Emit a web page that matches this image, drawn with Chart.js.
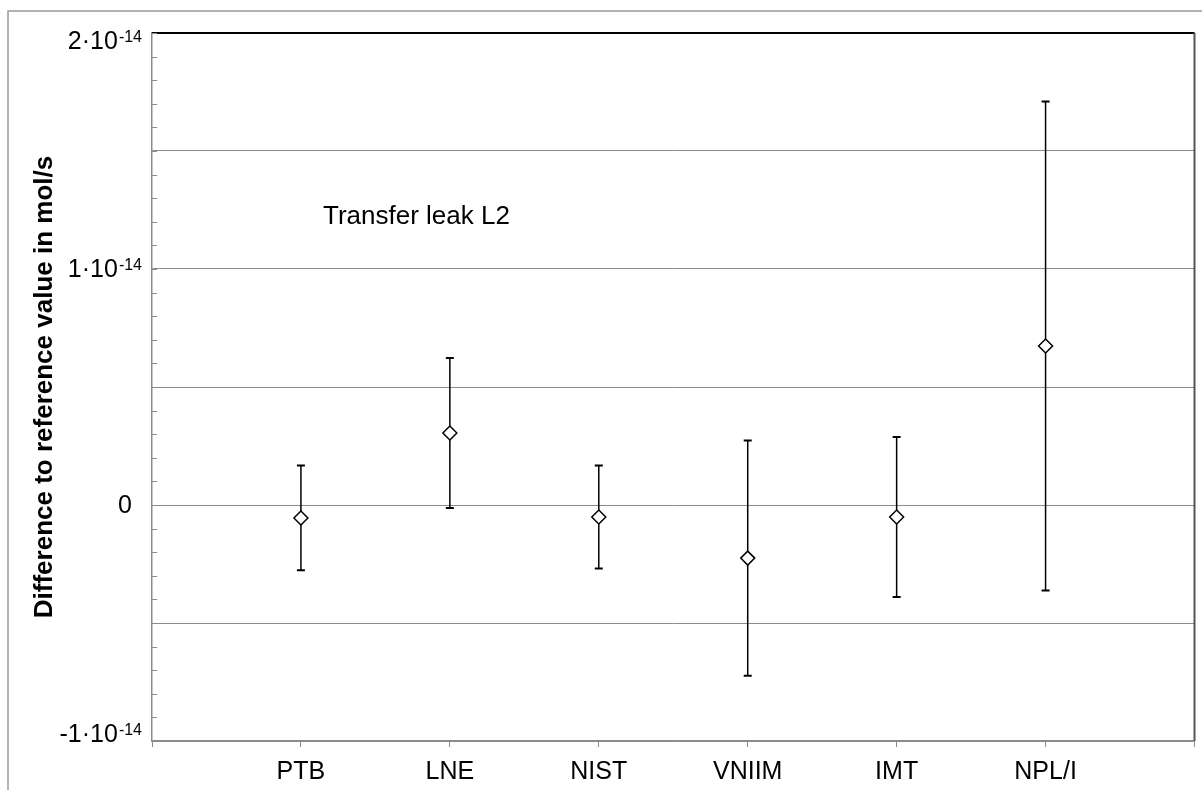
<!DOCTYPE html>
<html><head><meta charset="utf-8">
<script src="https://cdn.jsdelivr.net/npm/chart.js@4"></script>
<style>html,body{margin:0;padding:0;background:#fff}#wrap{width:1203px;height:790px;position:relative}</style>
</head><body><div id="wrap"><canvas id="c"></canvas></div>
<script>
const categories = ['PTB', 'LNE', 'NIST', 'VNIIM', 'IMT', 'NPL/I'];
const values = [-0.055e-14, 0.305e-14, -0.051e-14, -0.225e-14, -0.051e-14, 0.674e-14];
const uncertainties = [0.222e-14, 0.318e-14, 0.218e-14, 0.498e-14, 0.339e-14, 1.036e-14];
const yLabelValues = [2e-14, 1e-14, 0, -1e-14];
const yLabelMantissa = ['2·10', '1·10', '0', '-1·10'];
const yLabelExponent = ['-14', '-14', '', '-14'];
const annotationText = 'Transfer leak L2';
const yTitleText = 'Difference to reference value in mol/s';

const FONT = '"Liberation Sans", Arial, Helvetica, sans-serif';
const Y_MIN = -1e-14, Y_MAX = 2e-14;

const datasets = [{
  type: 'scatter',
  data: categories.map((c, i) => ({x: i + 1, y: values[i]})),
  pointStyle: 'rectRot',
  pointRadius: 7,
  pointHoverRadius: 7,
  backgroundColor: '#fff',
  borderColor: '#000',
  borderWidth: 1.5,
  order: 0
}];
categories.forEach((c, i) => {
  datasets.push({
    type: 'line',
    data: [{x: i + 1, y: values[i] - uncertainties[i]}, {x: i + 1, y: values[i] + uncertainties[i]}],
    borderColor: '#000',
    borderWidth: 1.5,
    pointStyle: 'line',
    pointRadius: 4,
    pointHoverRadius: 4,
    pointBorderColor: '#000',
    pointBorderWidth: 2,
    fill: false,
    order: 1
  });
});

const decor = {
  id: 'decor',
  beforeDraw(chart) {
    const ctx = chart.ctx;
    ctx.save();
    ctx.fillStyle = '#fff';
    ctx.fillRect(0, 0, chart.width, chart.height);
    ctx.strokeStyle = '#9a9a9a';
    ctx.lineWidth = 1.5;
    ctx.beginPath();
    ctx.moveTo(8, 790);
    ctx.lineTo(8, 11);
    ctx.lineTo(1202, 11);
    ctx.stroke();
    ctx.restore();
  },
  afterDraw(chart) {
    const ctx = chart.ctx;
    const a = chart.chartArea;
    const ys = chart.scales.y;
    ctx.save();
    // top and right frame
    ctx.lineWidth = 2;
    ctx.strokeStyle = '#000';
    ctx.beginPath(); ctx.moveTo(a.left, a.top); ctx.lineTo(a.right, a.top); ctx.stroke();
    ctx.strokeStyle = '#555';
    ctx.beginPath(); ctx.moveTo(a.right, a.top); ctx.lineTo(a.right, a.bottom); ctx.stroke();
    // minor ticks on the y axis
    ctx.strokeStyle = '#8c8c8c';
    ctx.lineWidth = 1;
    for (let k = 0; k <= 30; k++) {
      const v = Y_MIN + k * (Y_MAX - Y_MIN) / 30;
      const p = Math.round(ys.getPixelForValue(v)) + 0.5;
      ctx.beginPath(); ctx.moveTo(a.left, p); ctx.lineTo(a.left + 5, p); ctx.stroke();
    }
    // y tick labels with superscript exponent
    ctx.fillStyle = '#000';
    ctx.textBaseline = 'alphabetic';
    ctx.textAlign = 'right';
    const rightX = a.left - 10;
    yLabelValues.forEach((v, i) => {
      const p = ys.getPixelForValue(v);
      let base = p + 8;
      if (v === Y_MAX) base = p + 16;
      if (v === Y_MIN) base = p + 1;
      ctx.font = '16px ' + FONT;
      const exp = yLabelExponent[i];
      const supW = exp ? ctx.measureText(exp).width : 9;
      if (exp) ctx.fillText(exp, rightX, base - 7);
      ctx.font = '25px ' + FONT;
      ctx.fillText(yLabelMantissa[i], rightX - supW - 1, base);
    });
    // annotation
    ctx.font = '26px ' + FONT;
    ctx.textAlign = 'left';
    ctx.fillText(annotationText, 323, 224);
    ctx.restore();
  }
};

new Chart(document.getElementById('c'), {
  data: {datasets},
  options: {
    responsive: true,
    maintainAspectRatio: false,
    animation: false,
    layout: {padding: {top: 33, right: 8, left: 0, bottom: 0}},
    plugins: {legend: {display: false}, tooltip: {enabled: false}},
    scales: {
      x: {
        type: 'linear', min: 0, max: 7,
        ticks: {
          stepSize: 1, autoSkip: false, maxRotation: 0,
          callback: v => categories[v - 1] ?? '',
          font: {family: FONT, size: 25}, color: '#000', padding: 10
        },
        grid: {drawOnChartArea: false, drawTicks: true, tickLength: 6, color: '#8c8c8c', tickColor: '#8c8c8c'},
        border: {color: '#8c8c8c', width: 1.5},
        afterFit: s => { s.height = 49; s.paddingLeft = 0; s.paddingRight = 0; }
      },
      y: {
        type: 'linear', min: Y_MIN, max: Y_MAX,
        ticks: {stepSize: 0.5e-14, display: false},
        grid: {color: '#8c8c8c', lineWidth: 1, drawTicks: false},
        border: {color: '#8c8c8c', width: 1.5},
        title: {display: true, text: yTitleText, color: '#000', font: {family: FONT, size: 26, weight: 'bold'}, padding: {top: 29, bottom: 0}},
        afterFit: s => { s.width = 152; s.paddingTop = 0; s.paddingBottom = 0; }
      }
    }
  },
  plugins: [decor]
});
</script>
</body></html>
